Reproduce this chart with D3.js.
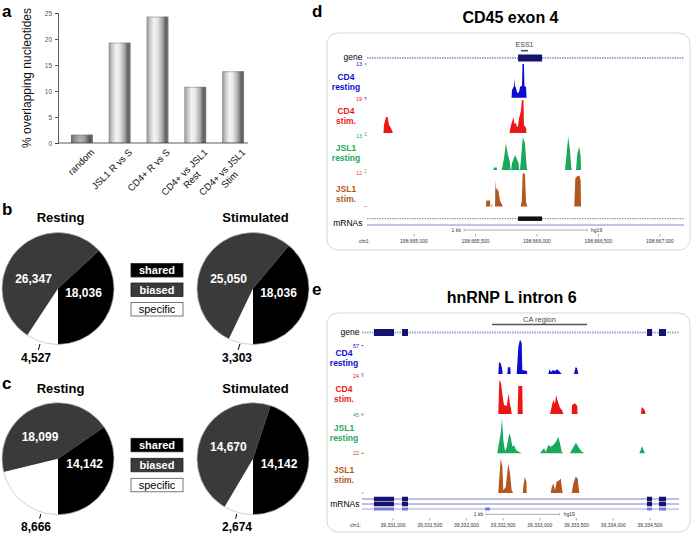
<!DOCTYPE html>
<html><head><meta charset="utf-8">
<script src="https://cdn.jsdelivr.net/npm/d3@7"></script>
<style>
body{margin:0;background:#fff}
svg{display:block}
text{font-family:"Liberation Sans",Arial,Helvetica,sans-serif}
</style>
</head><body>
<svg id="c" width="691" height="534"></svg>
<script>
// ================= DATA =================
// Panel a
const barCategories = [["random"], ["JSL1 R vs S"], ["CD4+ R vs S"], ["CD4+ vs JSL1", "Rest"], ["CD4+ vs JSL1", "Stim"]];
const barValues = [1.6, 19.3, 24.3, 10.8, 13.8];
const barTicks = [0, 5, 10, 15, 20, 25];
const barAxisLabel = "% overlapping nucleotides";

// Panels b, c  (order: shared, biased, specific)
const pieKeys = ["shared", "biased", "specific"];
const pieBResting = [18036, 26347, 4527];
const pieBStimulated = [18036, 25050, 3303];
const pieCResting = [14142, 18099, 8666];
const pieCStimulated = [14142, 14670, 2674];
const pieTitles = ["Resting", "Stimulated"];

// Panel d (positions are bp offsets from chromStart, values are read depth)
const dChromStart = 198665000;
const dAxisTicks = [0, 500, 1000, 1500, 2000];
const dGeneExons = [[846, 1041]];
const dRegion = [870, 927];
const dCD4Rest = [[793,0],[797,3.0],[805,3.7],[813,4.5],[817,7.6],[821,4.5],[829,3.7],[837,2.2],[846,1.8],[854,2.2],[862,4.1],[870,4.5],[878,4.5],[882,13],[894,13],[898,4.5],[911,4.1],[915,0]];
const dCD4Stim = [[-248,0],[-244,4.6],[-228,9.2],[-215,9.2],[-203,4.6],[-187,2.9],[-171,0],[776,0],[789,4.6],[797,6.3],[809,9.2],[817,5.2],[829,5.8],[837,3.5],[846,4.0],[854,8.6],[862,10.4],[870,13.2],[878,19],[890,19],[894,4.6],[911,2.9],[915,0]];
const dJSL1Rest = [[645,0],[650,1.0],[672,1.0],[675,0],[713,0],[732,4.6],[748,10.2],[764,5.7],[780,3.2],[785,0],[789,0],[797,2.7],[821,5.7],[833,4.6],[850,2.7],[856,0],[862,0],[868,3.2],[884,12.5],[902,10.3],[916,1.3],[921,0],[1228,0],[1241,6.4],[1254,12.7],[1268,7.6],[1276,2.6],[1282,0],[1317,0],[1328,6.4],[1344,8.9],[1355,5.1],[1358,0]];
const dJSL1Stim = [[585,0],[588,2.1],[618,2.1],[620,0],[630,0],[632,0.8],[636,0.8],[638,0],[659,0],[661,9.5],[667,5.6],[672,6.6],[686,5.6],[699,2.1],[718,0.4],[721,0],[867,0],[876,2.1],[884,11.8],[902,11.5],[911,1.5],[921,0],[1303,0],[1311,9.8],[1323,10.6],[1344,10.9],[1355,9.2],[1358,0]];
const dTrackMax = [13, 19, 13, 12];

// Panel e
const eChromStart = 39331000;
const eAxisTicks = [0, 500, 1000, 1500, 2000, 2500, 3000, 3500];
const eGeneExons = [[-259, 14], [123, 204], [3459, 3528], [3622, 3718]];
const eAltExons = [[-259, 14], [123, 204], [1253, 1321], [3459, 3528], [3622, 3718]];
const eRegion = [1348, 2642];
const eCD4Rest = [[1434,0],[1444,19.3],[1467,17.7],[1485,9.4],[1494,0],[1557,0],[1566,11.1],[1597,11.1],[1603,0],[1685,0],[1707,45],[1730,57],[1753,50.7],[1761,6.6],[1825,5.0],[1829,0],[2115,0],[2132,7.8],[2152,3.3],[2179,6.6],[2206,5.0],[2234,7.8],[2261,5.0],[2298,0],[2465,0],[2486,11.1],[2506,9.9],[2524,0]];
const eCD4Stim = [[1434,0],[1448,23.3],[1471,21.1],[1494,11.9],[1512,6.2],[1549,5.5],[1576,14.2],[1594,6.2],[1607,4.1],[1616,0],[1698,0],[1707,19.2],[1761,19.2],[1766,0],[2138,0],[2161,5.0],[2183,9.6],[2206,6.9],[2220,13.0],[2247,8.2],[2275,4.1],[2302,2.7],[2320,0],[2434,0],[2438,6.2],[2479,7.3],[2510,5.5],[2513,0],[3378,0],[3385,4.6],[3405,4.1],[3433,2.1],[3437,0]];
const eJSL1Rest = [[1421,0],[1434,8.4],[1467,25.5],[1485,44.6],[1502,17.0],[1525,2.9],[1549,8.4],[1584,25.5],[1607,19.1],[1625,8.4],[1648,10.6],[1675,4.2],[1707,2.3],[1753,0],[2002,0],[2025,2.9],[2057,6.4],[2080,1.7],[2115,10.6],[2148,8.4],[2183,10.6],[2220,14.8],[2251,21.2],[2274,12.8],[2297,2.0],[2320,0],[2411,0],[2448,6.4],[2492,13.5],[2524,8.4],[2570,2.0],[2615,0],[3355,0],[3378,5.5],[3387,9.3],[3405,5.5],[3432,0]];
const eJSL1Stim = [[1434,0],[1444,6.8],[1467,21.2],[1489,16.0],[1502,1.7],[1535,3.7],[1570,18.1],[1594,12.0],[1616,1.7],[1638,0],[1767,0],[1777,4.7],[1794,9.9],[1818,6.6],[1821,0],[2148,0],[2161,3.3],[2183,5.8],[2206,1.7],[2229,6.8],[2265,7.8],[2284,8.9],[2302,2.7],[2311,0],[2434,0],[2456,5.8],[2488,9.9],[2515,8.9],[2533,1.7],[2537,0]];
const eTrackMax = [57, 24, 45, 22];

const trackNames = [["CD4", "resting"], ["CD4", "stim."], ["JSL1", "resting"], ["JSL1", "stim."]];

// ================= STYLE / LAYOUT =================
const trackColors = ["#0d0dd0", "#ee1515", "#1aa85c", "#b4571c"];
const pieColors = {shared: "#000000", biased: "#3a3a3a", specific: "#ffffff"};
const svg = d3.select("#c");
const defs = svg.append("defs");

function panelLetter(t, x, y) {
  svg.append("text").attr("x", x).attr("y", y).text(t)
    .attr("font-size", 17).attr("font-weight", "bold").attr("fill", "#000");
}

// ================= PANEL a =================
panelLetter("a", 2, 17);
function gradient(id, stops) {
  const gr = defs.append("linearGradient").attr("id", id)
    .attr("x1", 0).attr("x2", 1).attr("y1", 0).attr("y2", 0);
  stops.forEach(s => gr.append("stop").attr("offset", s[0]).attr("stop-color", s[1]));
}
gradient("cyl", [[0, "#8c8c8c"], [0.12, "#bdbdbd"], [0.33, "#f4f4f4"], [0.5, "#e6e6e6"], [0.72, "#a8a8a8"], [0.88, "#5e5e5e"], [1, "#7e7e7e"]]);
gradient("cylDark", [[0, "#6a6a6a"], [0.15, "#8e8e8e"], [0.4, "#b0b0b0"], [0.6, "#a2a2a2"], [0.85, "#555"], [1, "#6e6e6e"]]);

const yA = d3.scaleLinear().domain([0, 25]).range([143, 13]);
const xA = d3.scaleBand().domain(d3.range(barValues.length)).range([63, 252])
  .paddingInner(0.42).paddingOuter(0.21);
const gA = svg.append("g");
gA.selectAll("rect.bar").data(barValues).join("rect").attr("class", "bar")
  .attr("x", (d, i) => xA(i)).attr("width", xA.bandwidth())
  .attr("y", d => yA(d)).attr("height", d => yA(0) - yA(d))
  .attr("fill", (d, i) => i === 0 ? "url(#cylDark)" : "url(#cyl)");
gA.selectAll("line.cap").data(barValues).join("line").attr("class", "cap")
  .attr("x1", (d, i) => xA(i) + 1).attr("x2", (d, i) => xA(i) + xA.bandwidth() - 1)
  .attr("y1", d => yA(d) + 0.5).attr("y2", d => yA(d) + 0.5)
  .attr("stroke", "#777").attr("stroke-width", 0.8).attr("opacity", 0.6);

const axL = gA.append("g").attr("transform", "translate(58,0)")
  .call(d3.axisLeft(yA).tickValues(barTicks).tickSize(3).tickPadding(3));
axL.select(".domain").attr("stroke", "#333").attr("stroke-width", 0.8);
axL.selectAll(".tick line").attr("stroke", "#333").attr("stroke-width", 0.8);
axL.selectAll(".tick text").attr("font-size", 6.5).attr("fill", "#555")
  .attr("font-family", '"Liberation Sans",Arial,sans-serif');
gA.append("line").attr("x1", 58).attr("x2", 248).attr("y1", yA(0)).attr("y2", yA(0))
  .attr("stroke", "#333").attr("stroke-width", 0.8);
gA.append("text").attr("transform", `translate(31,${(yA(0) + yA(25)) / 2}) rotate(-90)`)
  .attr("text-anchor", "middle").attr("font-size", 12).attr("fill", "#111").text(barAxisLabel);

barCategories.forEach((lines, i) => {
  const cx = xA(i) + xA.bandwidth() / 2;
  const g = gA.append("g").attr("transform", `translate(${cx + 13},${yA(0) + 10}) rotate(-45)`);
  const t1 = g.append("text").attr("text-anchor", "end").attr("font-size", 9.5).attr("fill", "#111").text(lines[0]);
  if (lines.length > 1) {
    const w = t1.node().getComputedTextLength();
    g.append("text").attr("text-anchor", "middle").attr("x", -w / 2).attr("y", 10.5)
      .attr("font-size", 9.5).attr("fill", "#111").text(lines[1]);
  }
});

// ================= PANELS b, c =================
panelLetter("b", 2, 215);
panelLetter("c", 2, 389);
const pies = [
  {vals: pieBResting, title: 0, cx: 58, cy: 288.5, ty: 222,
   inPos: [[25.5, 8.5], [-24.5, -5.5]], outLbl: [-22, 73.5], tick: [[-18, 55.5], [-19.7, 61.5]]},
  {vals: pieBStimulated, title: 1, cx: 253, cy: 288.5, ty: 222,
   inPos: [[25.5, 8.5], [-24.5, -5.5]], outLbl: [-16, 73.5], tick: [[-13, 55.5], [-15, 61.5]]},
  {vals: pieCResting, title: 0, cx: 58, cy: 458.7, ty: 393,
   inPos: [[26.7, 9.3], [-18, -17.7]], outLbl: [-22, 72.6], tick: [[-17.3, 55.3], [-18.3, 60]]},
  {vals: pieCStimulated, title: 1, cx: 253, cy: 458.7, ty: 393,
   inPos: [[26, 9.3], [-24.7, -7.7]], outLbl: [-16, 72.6], tick: [[-16.3, 55.3], [-17.3, 60]]}
];
const R = 56;
const pieGen = d3.pie().sort(null).startAngle(Math.PI).endAngle(3 * Math.PI).value(d => d.v);
const arcGen = d3.arc().innerRadius(0).outerRadius(R);
const fmt = d3.format(",");
pies.forEach(p => {
  const g = svg.append("g").attr("transform", `translate(${p.cx},${p.cy})`);
  const data = [2, 1, 0].map(i => ({k: pieKeys[i], v: p.vals[i]}));
  g.selectAll("path").data(pieGen(data)).join("path").attr("d", arcGen)
    .attr("fill", d => pieColors[d.data.k]).attr("stroke", "none");
  g.append("circle").attr("r", R).attr("fill", "none").attr("stroke", "#bbb").attr("stroke-width", 0.7);
  [0, 1].forEach(i => {
    g.append("text").attr("x", p.inPos[i][0]).attr("y", p.inPos[i][1]).attr("text-anchor", "middle")
      .attr("font-size", 12).attr("font-weight", "bold").attr("fill", "#fff").text(fmt(p.vals[i]));
  });
  g.append("line").attr("x1", p.tick[0][0]).attr("y1", p.tick[0][1]).attr("x2", p.tick[1][0]).attr("y2", p.tick[1][1])
    .attr("stroke", "#000").attr("stroke-width", 1);
  g.append("text").attr("x", p.outLbl[0]).attr("y", p.outLbl[1]).attr("text-anchor", "middle")
    .attr("font-size", 12).attr("font-weight", "bold").attr("fill", "#000").text(fmt(p.vals[2]));
  svg.append("text").attr("x", p.cx + 2.5).attr("y", p.ty).attr("text-anchor", "middle")
    .attr("font-size", 13).attr("font-weight", "bold").text(pieTitles[p.title]);
});
// legends
[[263.5, 19.5], [438.3, 20]].forEach(([y0, step]) => {
  pieKeys.forEach((k, i) => {
    const y = y0 + i * step;
    svg.append("rect").attr("x", 131).attr("y", y).attr("width", 52).attr("height", 13.5)
      .attr("fill", pieColors[k]).attr("stroke", k === "specific" ? "#555" : "#222").attr("stroke-width", 0.8);
    svg.append("text").attr("x", 157).attr("y", y + 10.8).attr("text-anchor", "middle")
      .attr("font-size", 11).attr("font-weight", k === "specific" ? "normal" : "bold")
      .attr("fill", k === "specific" ? "#000" : "#fff").text(k);
  });
});

// ================= GENOME PANELS d, e =================
function drawGenome(P) {
  const g = svg.append("g");
  g.append("rect").attr("x", P.box[0]).attr("y", P.box[1]).attr("width", P.box[2]).attr("height", P.box[3])
    .attr("rx", 11).attr("fill", "none").attr("stroke", "#d6d6d6").attr("stroke-width", 1);
  g.append("text").attr("x", P.titleX).attr("y", P.titleY).attr("text-anchor", "middle")
    .attr("font-size", 16).attr("font-weight", "bold").text(P.title);
  const x = d3.scaleLinear().domain(P.domain).range(P.range);
  g.append("text").attr("x", x(d3.mean(P.region))).attr("y", P.regionLabelY).attr("text-anchor", "middle")
    .attr("font-size", P.regionFont).attr("fill", "#444").text(P.regionName);
  g.append("line").attr("x1", x(P.region[0])).attr("x2", x(P.region[1])).attr("y1", P.regionBarY).attr("y2", P.regionBarY)
    .attr("stroke", "#555").attr("stroke-width", 1.6);
  g.append("text").attr("x", P.labelRight).attr("y", P.geneY + 2).attr("text-anchor", "end")
    .attr("font-size", 8.5).text("gene");
  g.append("line").attr("x1", x(P.domain[0])).attr("x2", x(P.domain[1])).attr("y1", P.geneY).attr("y2", P.geneY)
    .attr("stroke", "#a4a4d6").attr("stroke-width", 2).attr("stroke-dasharray", "1.5,1");
  g.selectAll("rect.gex").data(P.exons).join("rect").attr("class", "gex")
    .attr("x", d => x(d[0])).attr("width", d => x(d[1]) - x(d[0]))
    .attr("y", P.geneY - 3.5).attr("height", 7).attr("fill", "#14146e");
  P.tracks.forEach((t, i) => {
    const L = P.layout[i];
    const y = d3.scaleLinear().domain([0, t.max]).range([L.base, L.top]);
    const area = d3.area().x(d => x(d[0])).y0(L.base).y1(d => y(Math.min(d[1], t.max)));
    g.append("path").datum(t.data).attr("d", area).attr("fill", trackColors[i]);
    g.append("text").attr("x", P.maxLblX).attr("y", L.maxY + 2).attr("text-anchor", "end")
      .attr("font-size", 5.5).attr("fill", trackColors[i]).text(t.max);
    [L.maxY, L.base].forEach(yy => g.append("line").attr("x1", P.maxLblX + 2.5).attr("x2", P.maxLblX + 4.5)
      .attr("y1", yy).attr("y2", yy).attr("stroke", trackColors[i]).attr("stroke-width", 0.7));
    trackNames[i].forEach((s, j) => {
      g.append("text").attr("x", P.nameX).attr("y", L.nameY + j * 10 + 3.2).attr("text-anchor", "middle")
        .attr("font-size", 8.5).attr("font-weight", "bold").attr("fill", trackColors[i]).text(s);
    });
  });
  g.append("text").attr("x", P.labelRight).attr("y", P.mrnaLabelY + 3).attr("text-anchor", "end")
    .attr("font-size", 8.5).text("mRNAs");
  P.mrnas.forEach(m => {
    g.append("line").attr("x1", x(P.domain[0])).attr("x2", x(P.domain[1])).attr("y1", m.y).attr("y2", m.y)
      .attr("stroke", m.line).attr("stroke-width", m.lw || 0.8).attr("stroke-dasharray", m.dash || null);
    g.selectAll(null).data(m.exons).join("rect")
      .attr("x", d => x(d[0])).attr("width", d => x(d[1]) - x(d[0]))
      .attr("y", m.y - m.h / 2).attr("height", m.h).attr("fill", m.fill);
  });
  const sb = P.scaleBar;
  g.append("line").attr("x1", x(sb[0])).attr("x2", x(sb[1])).attr("y1", P.scaleY).attr("y2", P.scaleY)
    .attr("stroke", "#999").attr("stroke-width", 0.8);
  [sb[0], sb[1]].forEach(v => g.append("line").attr("x1", x(v)).attr("x2", x(v))
    .attr("y1", P.scaleY - 1.5).attr("y2", P.scaleY + 1.5).attr("stroke", "#999").attr("stroke-width", 0.6));
  g.append("text").attr("x", x(sb[0]) - 3).attr("y", P.scaleY + 1.8).attr("text-anchor", "end")
    .attr("font-size", 5).attr("fill", "#333").text("1 kb");
  g.append("text").attr("x", x(sb[1]) + 4).attr("y", P.scaleY + 1.8)
    .attr("font-size", 5).attr("fill", "#333").text("hg19");
  g.append("text").attr("x", P.chrX).attr("y", P.axisY + 2).attr("text-anchor", "end")
    .attr("font-size", 5).attr("fill", "#333").text("chr1:");
  P.ticks.forEach(v => {
    g.append("line").attr("x1", x(v)).attr("x2", x(v)).attr("y1", P.axisY - 7).attr("y2", P.axisY - 4.5)
      .attr("stroke", "#777").attr("stroke-width", 0.6);
    g.append("text").attr("x", x(v)).attr("y", P.axisY + 2).attr("text-anchor", "middle")
      .attr("font-size", 5).attr("fill", "#333").text(fmt(P.chromStart + v));
  });
}

panelLetter("d", 312, 17);
drawGenome({
  title: "CD45 exon 4", titleX: 510.5, titleY: 23,
  box: [327, 33, 363, 217],
  domain: [-382, 2195], range: [367, 684],
  region: dRegion, regionName: "ESS1", regionLabelY: 46.5, regionBarY: 50.7, regionFont: 7,
  labelRight: 362.5, geneY: 58, exons: dGeneExons,
  maxLblX: 362, nameX: 346,
  tracks: [
    {data: dCD4Rest, max: dTrackMax[0]}, {data: dCD4Stim, max: dTrackMax[1]},
    {data: dJSL1Rest, max: dTrackMax[2]}, {data: dJSL1Stim, max: dTrackMax[3]}],
  layout: [
    {base: 97.7, top: 64, maxY: 64, nameY: 77},
    {base: 133, top: 100, maxY: 99, nameY: 110.5},
    {base: 170, top: 136, maxY: 135.5, nameY: 148},
    {base: 206.5, top: 172.5, maxY: 172.5, nameY: 189}],
  mrnaLabelY: 222.5,
  mrnas: [
    {y: 218.7, line: "#9a9a9a", dash: "1.5,1", lw: 1.2, exons: dGeneExons, h: 4.5, fill: "#111"},
    {y: 225, line: "#6a6acc", exons: [], h: 0, fill: "none"}],
  scaleBar: [407, 1407], scaleY: 230,
  chrX: 370, axisY: 241, ticks: dAxisTicks, chromStart: dChromStart
});

panelLetter("e", 312, 295);
drawGenome({
  title: "hnRNP L intron 6", titleX: 511.7, titleY: 303,
  box: [327, 313, 363, 219],
  domain: [-422, 3895], range: [362, 679],
  region: eRegion, regionName: "CA region", regionLabelY: 322, regionBarY: 324.5, regionFont: 7.5,
  labelRight: 359.5, geneY: 332.5, exons: eGeneExons,
  maxLblX: 359, nameX: 344,
  tracks: [
    {data: eCD4Rest, max: eTrackMax[0]}, {data: eCD4Stim, max: eTrackMax[1]},
    {data: eJSL1Rest, max: eTrackMax[2]}, {data: eJSL1Stim, max: eTrackMax[3]}],
  layout: [
    {base: 374, top: 339.5, maxY: 345.5, nameY: 353},
    {base: 414, top: 379, maxY: 376, nameY: 389},
    {base: 453.3, top: 418, maxY: 415, nameY: 428},
    {base: 493, top: 457, maxY: 453.3, nameY: 470}],
  mrnaLabelY: 503.5,
  mrnas: [
    {y: 499, line: "#5c5cb0", exons: eGeneExons, h: 4.5, fill: "#14146e"},
    {y: 504, line: "#5c5cb0", exons: eGeneExons, h: 4.5, fill: "#14146e"},
    {y: 509, line: "#8c8cdc", exons: eAltExons, h: 3, fill: "#7a7ad8"}],
  scaleBar: [1270, 2270], scaleY: 514.3,
  chrX: 361, axisY: 525, ticks: eAxisTicks, chromStart: eChromStart
});
</script>
</body></html>
